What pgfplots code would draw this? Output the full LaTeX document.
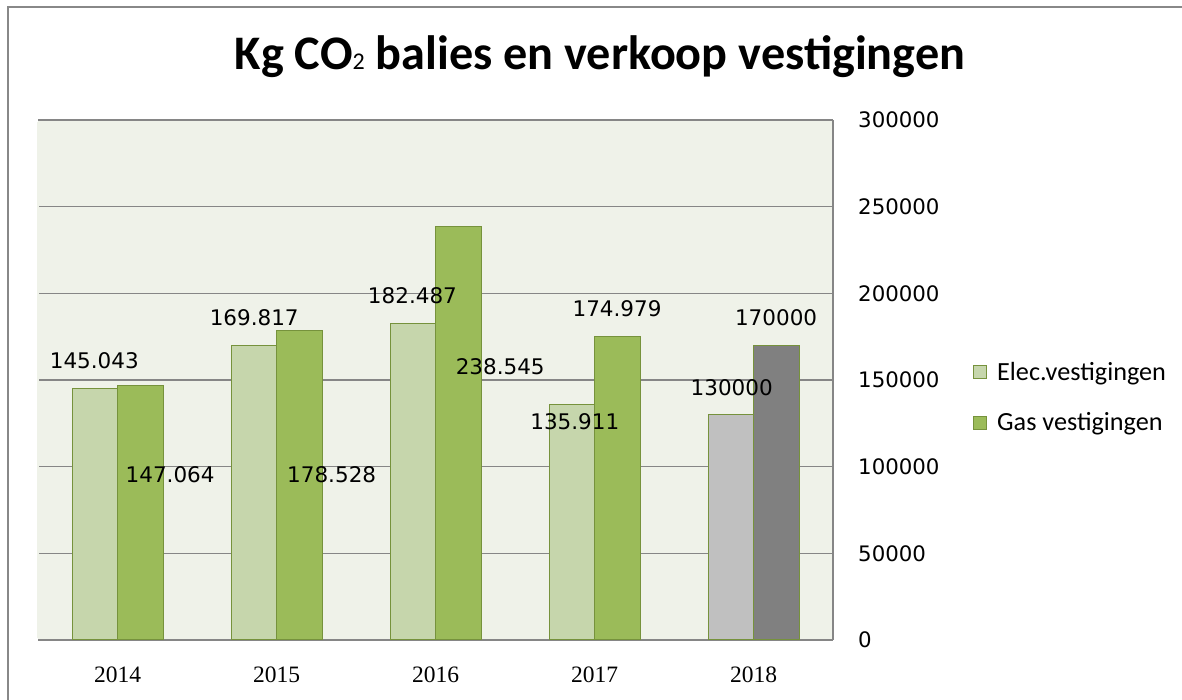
\documentclass[border=0pt]{standalone}
\usepackage{pgfplots}
\pgfplotsset{compat=1.18}
\usepackage{fontspec}
\setmainfont{DejaVu Sans}
\newfontfamily\titlefont{Carlito}
\newfontfamily\legfont{Carlito}
\newfontfamily\xfont{Liberation Serif}
\definecolor{elec}{RGB}{198,214,172}
\definecolor{gas}{RGB}{155,187,89}
\definecolor{edge}{RGB}{118,146,60}
\definecolor{bgc}{RGB}{239,242,233}
\definecolor{gridc}{RGB}{134,134,134}
\definecolor{grayA}{RGB}{192,192,192}
\definecolor{grayB}{RGB}{128,128,128}
\definecolor{frame}{RGB}{136,136,136}
\begin{document}
\begin{tikzpicture}[x=1bp,y=1bp]
\useasboundingbox (0,0) rectangle (1182,700);
\draw[draw=frame, line width=2bp] (8,-30) rectangle (1210,693);
\node[anchor=base, inner sep=0] at (600,630) {\titlefont\bfseries\fontsize{48.2bp}{52bp}\selectfont Kg CO{\mdseries\fontsize{24bp}{26bp}\selectfont 2} balies en verkoop vestigingen};
\begin{axis}[
  at={(38bp,60bp)}, anchor=south west,
  scale only axis, width=795bp, height=520bp,
  xmin=-0.5, xmax=4.5, ymin=0, ymax=300000,
  ybar, bar width=45.5bp,
  axis background/.style={fill=bgc, draw=none},
  axis x line*=bottom, axis y line*=right,
  axis line style={draw=gridc, line width=1.2bp},
  ymajorgrids, xmajorgrids=false, grid style={draw=gridc, line width=1.2bp},
  major tick length=0pt, tick style={draw=none},
  xtick={0,1,2,3,4}, xticklabels={2014,2015,2016,2017,2018},
  ytick={0,50000,100000,150000,200000,250000,300000},
  scaled ticks=false,
  /pgf/number format/.cd, fixed, 1000 sep={}, assume math mode=true,
  /pgfplots/.cd,
  yticklabel style={font=\fontsize{21.3bp}{24bp}\selectfont, anchor=west, inner sep=0pt, xshift=25bp},
  xticklabel style={font=\xfont\fontsize{23.5bp}{26bp}\selectfont, anchor=north, inner sep=0pt, yshift=-27bp},
  legend style={at={(axis description cs:1.1723,0.4663)}, anchor=west, draw=none, fill=none,
    font=\legfont\fontsize{26.2bp}{28bp}\selectfont, row sep=30.5bp, nodes={inner sep=0pt},
    /tikz/every odd column/.append style={column sep=10bp}},
  legend cell align=left,
  legend image code/.code={\draw[#1, line width=1bp] (0bp,-6.5bp) rectangle (13bp,6.5bp);},
  clip=false,
]
\draw[bgc, line width=1.6bp] (rel axis cs:0,0.003) -- (rel axis cs:0,0.997);
\addplot[fill=elec, draw=edge, line width=1bp, bar shift=-22.75bp] coordinates {(0,145043) (1,169817) (2,182487) (3,135911)};
\addlegendentry{Elec.vestigingen}
\addplot[fill=gas, draw=edge, line width=1bp, bar shift=22.75bp] coordinates {(0,147064) (1,178528) (2,238545) (3,174979)};
\addlegendentry{Gas vestigingen}
\addplot[fill=grayA, draw=edge, line width=1bp, bar shift=-22.75bp, forget plot] coordinates {(4,130000)};
\addplot[fill=grayB, draw=edge, line width=1bp, bar shift=22.75bp, forget plot] coordinates {(4,170000)};
\begin{scope}[every node/.style={font=\fontsize{21.5bp}{24bp}\selectfont, inner sep=0pt}]
\node at (axis cs:-0.146,160950) {145.043};
\node at (axis cs:0.331,95190) {147.064};
\node at (axis cs:0.860,186050) {169.817};
\node at (axis cs:1.347,95190) {178.528};
\node at (axis cs:1.855,198460) {182.487};
\node at (axis cs:2.407,157780) {238.545};
\node at (axis cs:2.876,125770) {135.911};
\node at (axis cs:3.142,191240) {174.979};
\node at (axis cs:3.863,145670) {130000};
\node at (axis cs:4.142,186050) {170000};
\end{scope}
\end{axis}
\end{tikzpicture}
\end{document}
